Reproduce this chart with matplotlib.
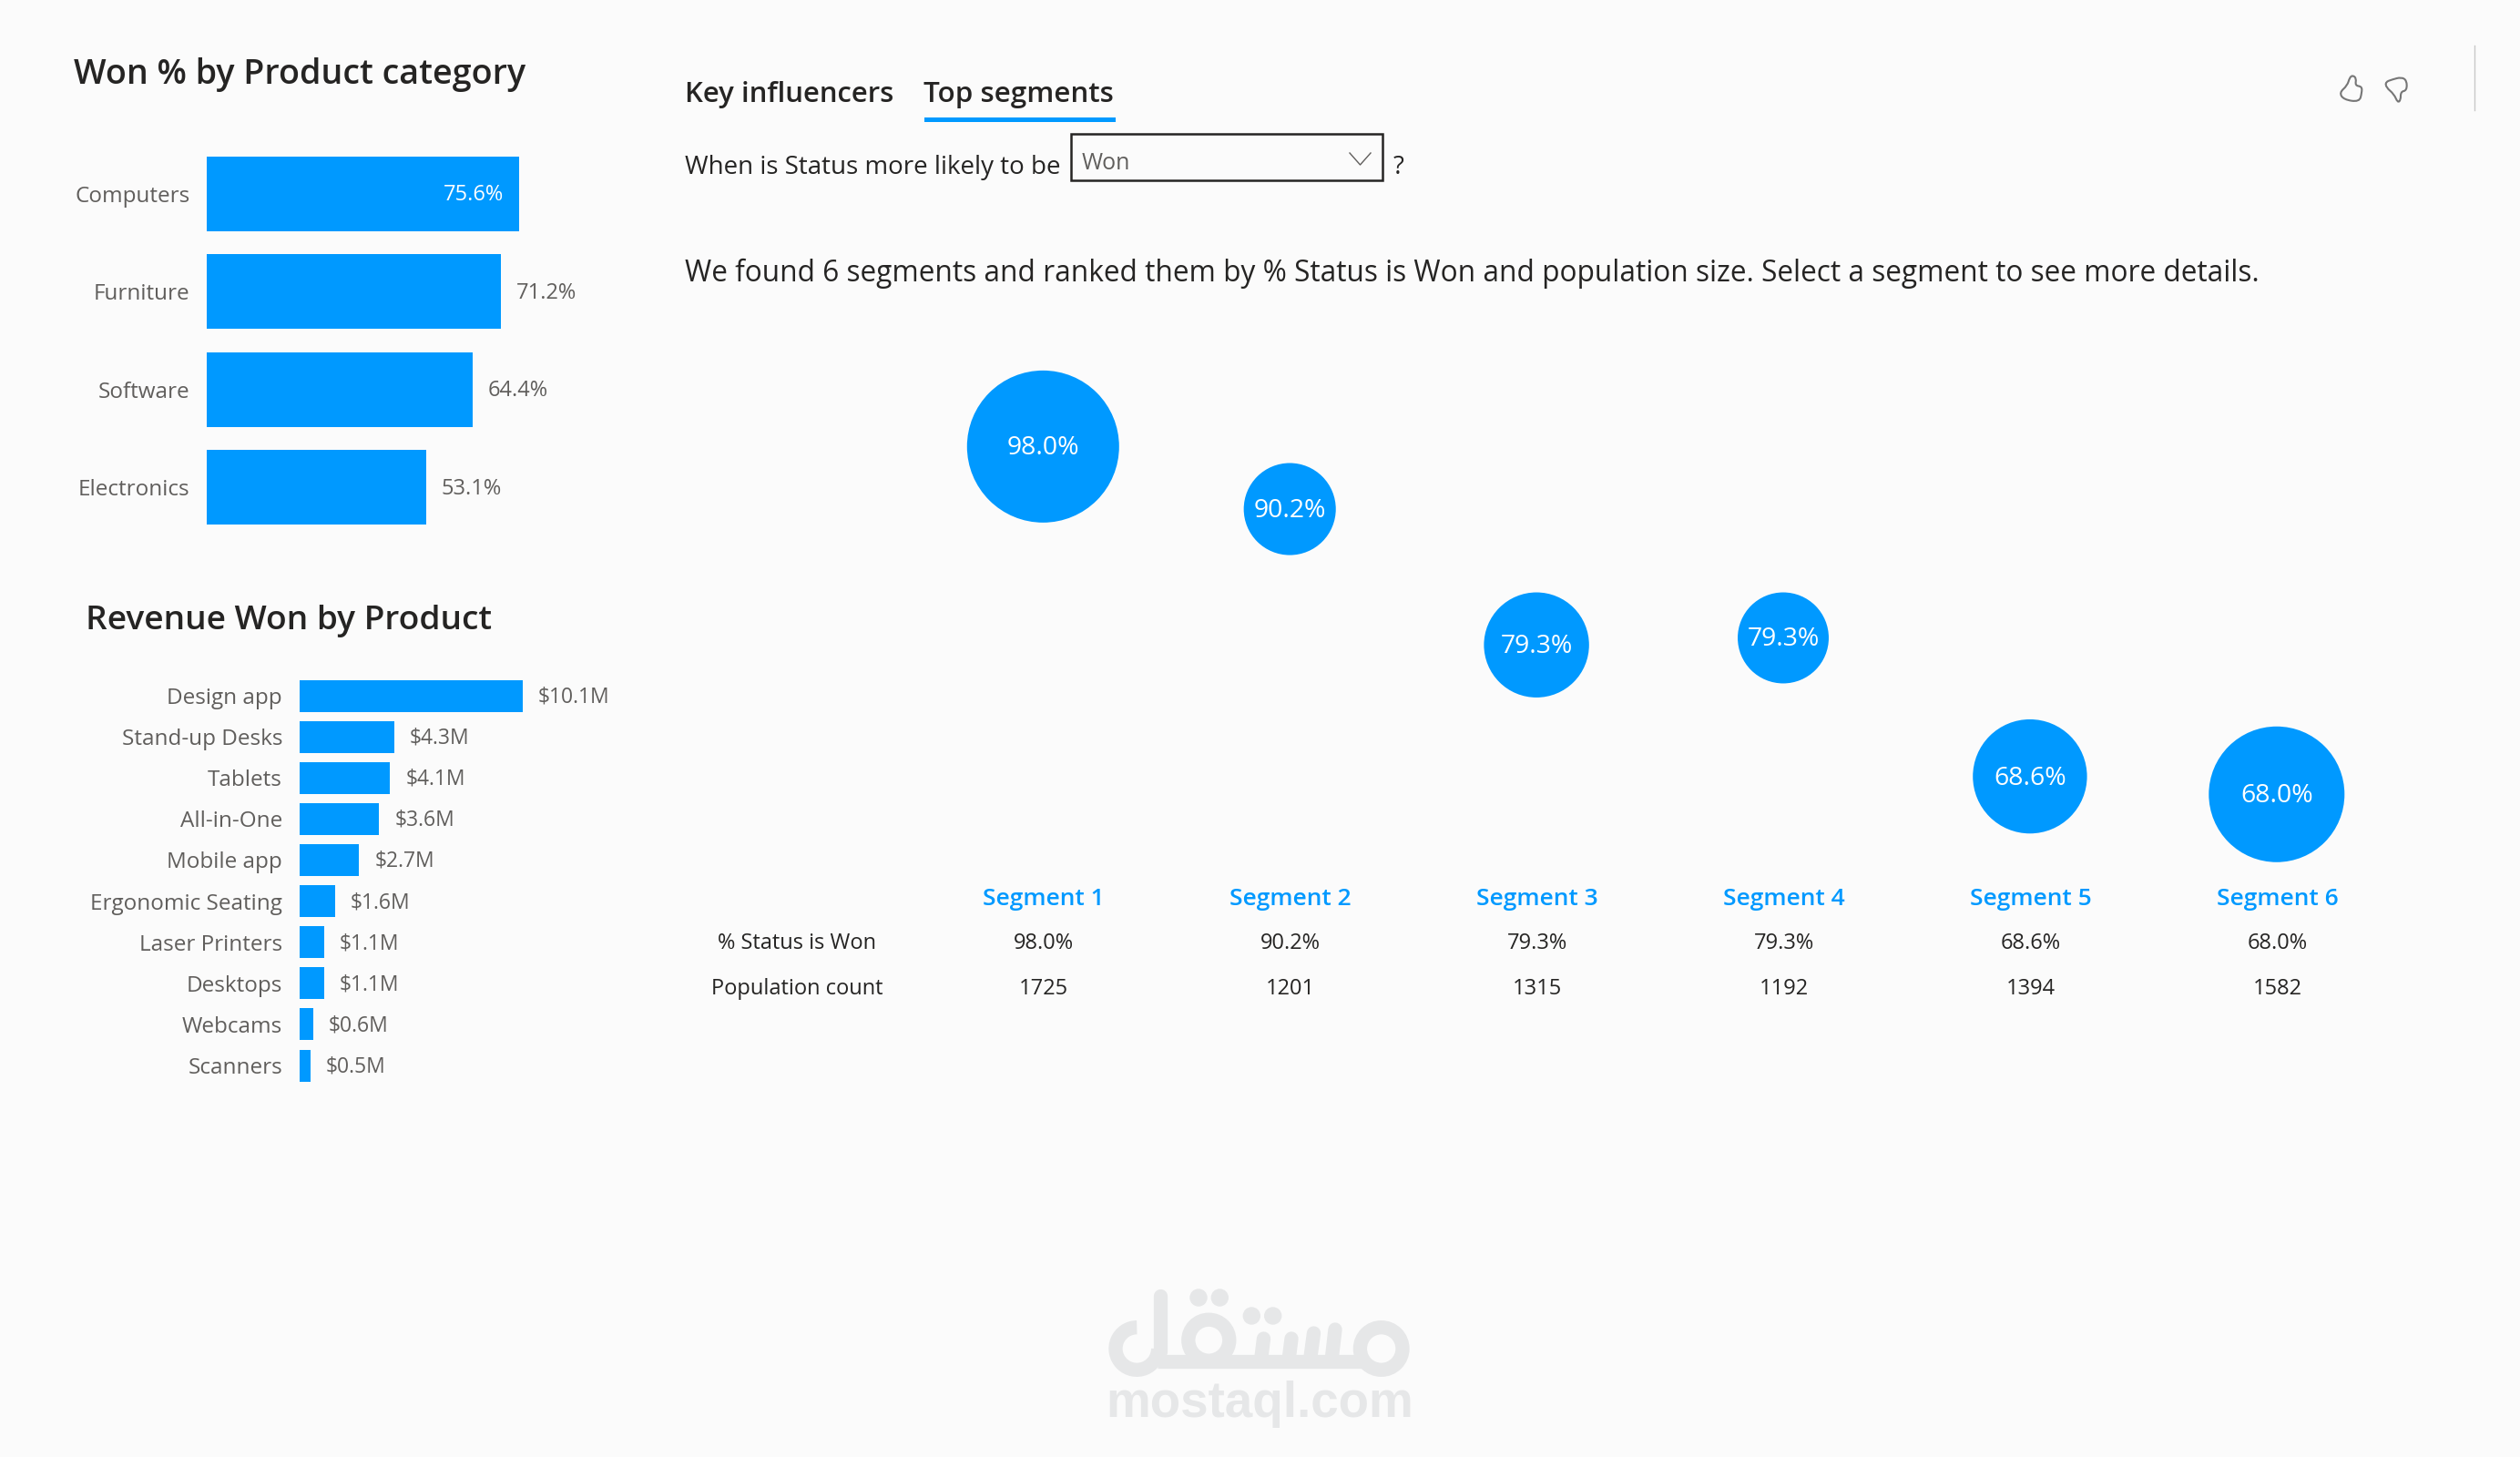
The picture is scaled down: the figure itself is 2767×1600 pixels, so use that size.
import matplotlib
matplotlib.use("Agg")
import matplotlib.pyplot as plt
from matplotlib.patches import Rectangle, PathPatch, Arc
from matplotlib.path import Path

plt.rcParams['font.family'] = ['Open Sans', 'DejaVu Sans']

W, H = 2767, 1600
BLUE = '#0099ff'
BG = '#fbfbfb'
DARK = '#252423'
GREY = '#605e5c'
MARK = '#e6e7e8'

# data
categories = ['Computers', 'Furniture', 'Software', 'Electronics']
won_pct = [75.6, 71.2, 64.4, 53.1]

products = ['Design app', 'Stand-up Desks', 'Tablets', 'All-in-One', 'Mobile app',
            'Ergonomic Seating', 'Laser Printers', 'Desktops', 'Webcams', 'Scanners']
revenue = [10.1, 4.3, 4.1, 3.6, 2.7, 1.6, 1.1, 1.1, 0.6, 0.5]

segments = ['Segment 1', 'Segment 2', 'Segment 3', 'Segment 4', 'Segment 5', 'Segment 6']
segment_won = [98.0, 90.2, 79.3, 79.3, 68.6, 68.0]
population = [1725, 1201, 1315, 1192, 1394, 1582]


def px_axes(left, top, right, bottom):
    ax = fig.add_axes([left / W, 1 - bottom / H, (right - left) / W, (bottom - top) / H])
    ax.patch.set_alpha(0)
    return ax


def px_to_pt(v):
    return v * 72 / fig.dpi


fig = plt.figure(figsize=(W / 100, H / 100), dpi=100, facecolor=BG)

# overlay in pixels for the page furniture
ui = px_axes(0, 0, W, H)
ui.set_xlim(0, W)
ui.set_ylim(H, 0)
ui.axis('off')


def hbar_chart(ax, labels, values, fmt, bar_h, size, value_size):
    ypos = range(len(labels))
    ax.barh(ypos, values, height=bar_h, color=BLUE)
    ax.set_yticks(list(ypos), labels)
    ax.set_ylim(len(labels) - 0.5, -0.5)
    ax.tick_params(axis='y', length=0, pad=px_to_pt(19), labelsize=size, labelcolor=GREY)
    ax.set_xticks([])
    for s in ax.spines.values():
        s.set_visible(False)
    for y, v in zip(ypos, values):
        if v > 0.75 * ax.get_xlim()[1]:
            ax.annotate(fmt.format(v), (v, y), xytext=(-px_to_pt(17), -px_to_pt(1.5)), textcoords='offset points',
                        ha='right', va='center', fontsize=value_size, color='white')
        else:
            ax.annotate(fmt.format(v), (v, y), xytext=(px_to_pt(17), -px_to_pt(1.5)), textcoords='offset points',
                        ha='left', va='center', fontsize=value_size, color=GREY)


# won % by category
ax1 = px_axes(227.3, 159.3, 680.3, 588.7)
ax1.set_xlim(0, 100)
hbar_chart(ax1, categories, won_pct, '{:.1f}%', 0.764, 17.5, 17)

# revenue by product
ax2 = px_axes(329, 741.5, 668, 1192.6)
ax2.set_xlim(0, 14)
hbar_chart(ax2, products, revenue, '${:.1f}M', 0.776, 17.5, 16.5)

ui.text(81, 82, 'Won % by Product category', fontsize=27.1, color=DARK, va='center', fontweight='semibold')
ui.text(93.5, 682.5, 'Revenue Won by Product', fontsize=26.7, color=DARK, va='center', fontweight='semibold')

# tabs and the question line
ui.text(752, 104, 'Key influencers', fontsize=22.4, color=DARK, va='center', fontweight='semibold')
ui.text(1014.5, 104, 'Top segments', fontsize=22.6, color=DARK, va='center', fontweight='semibold')
ui.add_patch(Rectangle((1014.5, 128.5), 210.5, 5, color=BLUE, lw=0))
ui.text(752, 184, 'When is Status more likely to be', fontsize=20, color=DARK, va='center')
ui.add_patch(Rectangle((1175.5, 147), 342.5, 51, fc='none', ec=DARK, lw=1.8))
ui.text(1188, 179.5, 'Won', fontsize=18, color=GREY, va='center')
ui.plot([1482, 1493.5, 1505], [168, 181, 168], color=GREY, lw=1.0)
ui.text(1530, 184, '?', fontsize=20, color=DARK, va='center')
ui.text(752, 300, 'We found 6 segments and ranked them by % Status is Won and population size. '
        'Select a segment to see more details.', fontsize=22.8, color=DARK, va='center')

# bubbles: top edge follows % won, radius follows population
col_x0, col_dx = 1145.3, 270.9
ax3 = px_axes(col_x0 - col_dx, 380.8, col_x0 + 6 * col_dx, 902)
ax3.set_xlim(0, 7)
ax3.set_ylim(60, 100)
ax3.axis('off')
px_per_pct = (902 - 380.8) / 40
xs = list(range(1, 7))
radii = [83.5 - (1725 - p) * 0.0629 for p in population]
centers = [v - r / px_per_pct for v, r in zip(segment_won, radii)]
ax3.scatter(xs, centers, s=[px_to_pt(2 * r) ** 2 for r in radii], color=BLUE, linewidths=0, clip_on=False)
for x, c, v in zip(xs, centers, segment_won):
    ax3.annotate(f'{v:.1f}%', (x, c), xytext=(0, -px_to_pt(2)), textcoords='offset points',
                 color='white', fontsize=20.4, ha='center', va='center')

# table below the bubbles
ui.text(875, 1036, '% Status is Won', fontsize=17, color=DARK, ha='center', va='center')
ui.text(875, 1086.5, 'Population count', fontsize=17, color=DARK, ha='center', va='center')
for i, (s, v, p) in enumerate(zip(segments, segment_won, population)):
    x = col_x0 + i * col_dx + 0.8
    ui.text(x, 987, s, fontsize=19, color=BLUE, ha='center', va='center', fontweight='semibold')
    ui.text(x, 1036, f'{v:.1f}%', fontsize=17, color=DARK, ha='center', va='center')
    ui.text(x, 1086.5, str(p), fontsize=17, color=DARK, ha='center', va='center')


def blob(points, color, lw):
    # closed curve through the midpoints of the outline
    mids = [((a[0] + b[0]) / 2, (a[1] + b[1]) / 2) for a, b in zip(points, points[1:] + points[:1])]
    verts = [mids[-1]]
    codes = [Path.MOVETO]
    for p, m in zip(points, mids):
        verts += [p, m]
        codes += [Path.CURVE3, Path.CURVE3]
    ui.add_patch(PathPatch(Path(verts, codes), fc='none', ec=color, lw=lw))


thumb_up = [(310, 158), (322, 168), (318, 192), (340, 195), (340, 215), (332, 246), (280, 238),
            (266, 215), (292, 192), (300, 165)]
thumb_down = [(418, 180), (440, 172), (470, 164), (488, 175), (488, 208), (468, 212), (468, 240),
              (458, 248), (446, 220), (420, 198)]
blob([(2480 + x / 3, 30 + y / 3) for x, y in thumb_up], '#767676', 1.5)
blob([(2480 + x / 3, 30 + y / 3) for x, y in thumb_down], '#767676', 1.5)
ui.plot([2716.5, 2716.5], [50, 121], color='#c8c8c8', lw=1)


# watermark logo
def stroke(xs_, ys_, w=15.3, cap='round'):
    ui.plot(xs_, ys_, color=MARK, lw=px_to_pt(w), solid_capstyle=cap, zorder=0.5)


def ring(cx, cy, r, w=15.3):
    ui.add_patch(plt.Circle((cx, cy), r, fc='none', ec=MARK, lw=px_to_pt(w), zorder=0.5))


ring(1516.7, 1481, 23.3)
ring(1327.3, 1471.7, 22.5)
stroke([1271, 1500], [1495, 1495], cap='butt')
ui.add_patch(Arc((1248.3, 1481), 46.6, 46.6, theta1=0, theta2=270,
                 ec=MARK, lw=px_to_pt(15.3), zorder=0.5))
stroke([1273.5, 1273.5], [1423, 1484])
for x1, y1, x2, y2 in [(1385, 1490, 1387.5, 1470), (1415.5, 1490, 1418, 1470),
                       (1439, 1490, 1442.5, 1464), (1462.5, 1490, 1466, 1460)]:
    stroke([x1, x2], [y1, y2])
for cx, cy in [(1316, 1425), (1339.3, 1425), (1374.3, 1445), (1397.7, 1445)]:
    ui.add_patch(plt.Circle((cx, cy), 9.7, fc=MARK, ec='none', zorder=0.5))
ui.text(1383, 1556, 'mostaql.com', fontsize=39.4, family='Liberation Sans', fontweight='bold',
        color=MARK, ha='center', va='baseline', zorder=0.5)

fig.savefig('out.png', dpi=100, facecolor=BG)
